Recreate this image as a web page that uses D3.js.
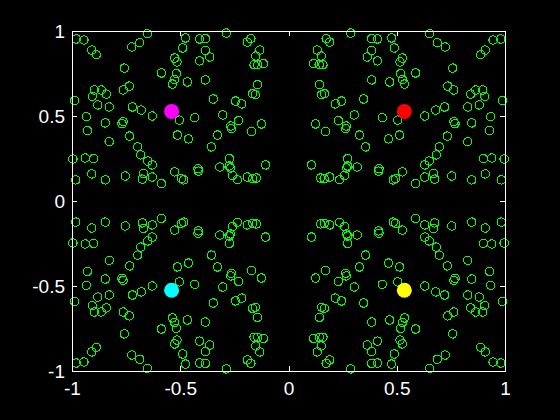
<!DOCTYPE html>
<meta charset="utf-8">
<html>
<head>
<style>
  body { margin: 0; background: #000; }
  svg { display: block; background: #000; }
  .axis text { fill: #fff; }
  .axis line { stroke: #fff; }
</style>
</head>
<body>
<svg width="560" height="420"></svg>
<script src="https://d3js.org/d3.v7.min.js"></script>
<script>

// tick values and their labels
var tickVals = [-1, -0.5, 0, 0.5, 1];
var tickLabels = ["-1", "-0.5", "0", "0.5", "1"];

// the scatter is mirror symmetric about both axes, so the points are read
// off the upper right quadrant (|x|, |y|) and reflected into the others
var pointX = [0.287, 0.652, 0.174, 0.190, 0.384, 0.411, 0.476, 0.489, 0.687, 0.724,
              0.945, 0.980, 0.133, 0.151, 0.116, 0.142, 0.159, 0.384, 0.364, 0.411,
              0.526, 0.515, 0.909, 0.888, 0.758, 0.518, 0.587, 0.384, 0.467, 0.526,
              0.536, 0.143, 0.153, 0.166, 0.735, 0.763, 0.841, 0.865, 0.897, 0.906,
              0.988, 0.347, 0.245, 0.216, 0.828, 0.881, 0.721, 0.680, 0.629, 0.304,
              0.433, 0.504, 0.125, 0.230, 0.267, 0.264, 0.171, 0.764, 0.769, 0.846,
              0.934, 0.929, 0.328, 0.462, 0.513, 0.734, 0.828, 0.356, 0.697, 0.683,
              0.650, 0.629, 0.106, 0.273, 0.273, 0.268, 0.317, 0.418, 0.416, 0.526,
              0.495, 0.484, 0.587, 0.629, 0.670, 0.675, 0.754, 0.846, 0.909, 0.900,
              0.939, 0.996, 0.983, 0.148, 0.165, 0.190, 0.236, 0.259];
var pointY = [0.988, 0.984, 0.955, 0.935, 0.955, 0.953, 0.959, 0.900, 0.931, 0.906,
              0.947, 0.953, 0.888, 0.853, 0.808, 0.802, 0.802, 0.886, 0.847, 0.824,
              0.841, 0.818, 0.888, 0.861, 0.782, 0.749, 0.753, 0.712, 0.700, 0.714,
              0.688, 0.684, 0.625, 0.631, 0.676, 0.653, 0.629, 0.653, 0.653, 0.616,
              0.590, 0.600, 0.588, 0.571, 0.553, 0.565, 0.553, 0.535, 0.500, 0.506,
              0.490, 0.476, 0.453, 0.473, 0.441, 0.425, 0.408, 0.467, 0.455, 0.459,
              0.496, 0.414, 0.388, 0.365, 0.388, 0.382, 0.349, 0.318, 0.318, 0.271,
              0.235, 0.212, 0.212, 0.249, 0.206, 0.194, 0.200, 0.190, 0.176, 0.171,
              0.131, 0.124, 0.102, 0.141, 0.161, 0.129, 0.147, 0.124, 0.159, 0.249,
              0.253, 0.247, 0.124, 0.135, 0.131, 0.141, 0.125, 0.151];
var quadSigns = [[-1, 1], [1, 1], [-1, -1], [1, -1]];

// the four cluster centres
var centerX = [-0.54, 0.535, -0.54, 0.535];
var centerY = [0.527, 0.527, -0.525, -0.525];
var centerColor = ["#ff00ff", "#ff0000", "#00ffff", "#ffff00"];

var svg = d3.select("svg");

var x = d3.scaleLinear().domain([-1, 1]).range([72, 505]);
var y = d3.scaleLinear().domain([-1, 1]).range([371, 31]);

var points = [];
quadSigns.forEach(function(s) {
    pointX.forEach(function(v, i) {
        points.push([s[0] * v, s[1] * pointY[i]]);
    });
});

svg.append("g")
    .selectAll("circle")
    .data(points)
    .enter().append("circle")
    .attr("cx", function(d) { return x(d[0]); })
    .attr("cy", function(d) { return y(d[1]); })
    .attr("r", 4.2)
    .attr("fill", "none")
    .attr("stroke", "#00ff00")
    .attr("stroke-width", 1.1)
    .attr("shape-rendering", "crispEdges");

svg.append("g")
    .selectAll("circle")
    .data(centerX)
    .enter().append("circle")
    .attr("cx", function(d) { return x(d); })
    .attr("cy", function(d, i) { return y(centerY[i]); })
    .attr("r", 7.5)
    .attr("fill", function(d, i) { return centerColor[i]; });

// box
svg.append("rect")
    .attr("x", 72.5).attr("y", 31.5)
    .attr("width", 433).attr("height", 340)
    .attr("fill", "none")
    .attr("stroke", "#fff")
    .attr("shape-rendering", "crispEdges");

function styleAxis(g) {
    g.attr("class", "axis")
        .attr("font-family", "'Liberation Sans', Arial, sans-serif")
        .attr("font-size", 19);
    g.select(".domain").remove();
    g.selectAll("line").attr("shape-rendering", "crispEdges");
}

var fmt = function(d, i) { return tickLabels[i]; };

svg.append("g")
    .attr("transform", "translate(0,371)")
    .call(d3.axisBottom(x).tickValues(tickVals).tickFormat(fmt).tickSize(-5).tickPadding(11))
    .call(styleAxis);

svg.append("g")
    .attr("transform", "translate(72,0)")
    .call(d3.axisLeft(y).tickValues(tickVals).tickFormat(fmt).tickSize(-5).tickPadding(7))
    .call(styleAxis);

svg.append("g")
    .attr("transform", "translate(0,31)")
    .call(d3.axisTop(x).tickValues(tickVals).tickFormat("").tickSize(-5))
    .call(styleAxis);

svg.append("g")
    .attr("transform", "translate(505,0)")
    .call(d3.axisRight(y).tickValues(tickVals).tickFormat("").tickSize(-5))
    .call(styleAxis);

</script>
</body>
</html>
